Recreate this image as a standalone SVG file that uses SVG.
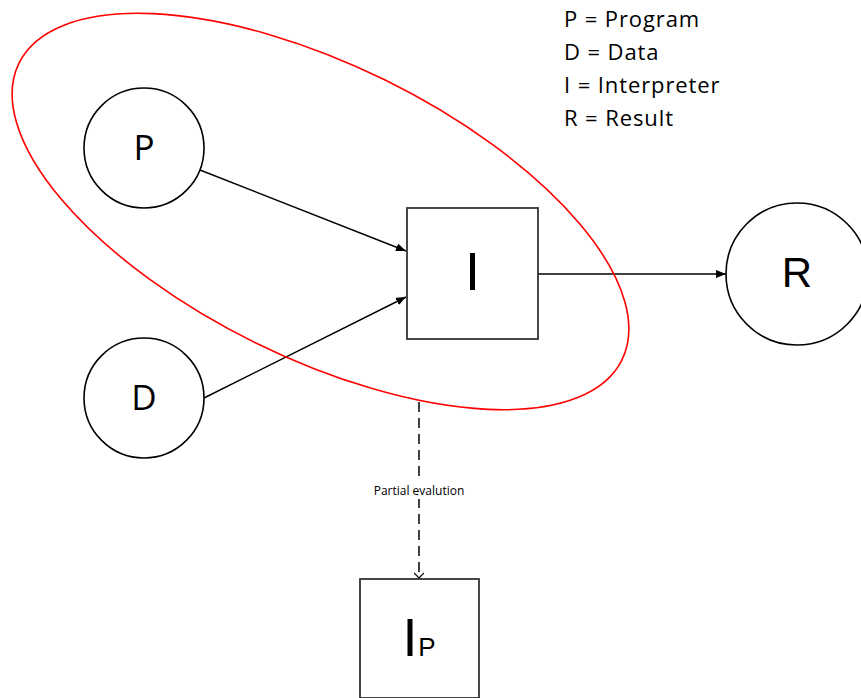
<svg xmlns="http://www.w3.org/2000/svg" width="861" height="698" viewBox="0 0 861 698">
<style>
.node{fill:#fff;stroke:#000;stroke-width:1.6}
.box{fill:#fff;stroke:#333;stroke-width:1.8}
.lbl{font-family:"Open Sans","Liberation Sans",sans-serif;fill:#000;text-anchor:middle}
.big{font-family:"Liberation Sans",Arial,sans-serif;fill:#000;text-anchor:middle}
.edge{stroke:#000;stroke-width:1.5;fill:none}
.legend{font-family:"Open Sans","Liberation Sans",sans-serif;font-size:22px;letter-spacing:0.9px;fill:#000}
</style>
<defs>
<marker id="arr" markerWidth="10" markerHeight="8" refX="10" refY="4" orient="auto" markerUnits="userSpaceOnUse">
<path d="M0,0 L10,4 L0,8 Z" fill="#000"/>
</marker>
<marker id="open" markerWidth="10" markerHeight="10" refX="5" refY="9" orient="0" markerUnits="userSpaceOnUse">
<path d="M0,4 L5,9 L10,4" fill="none" stroke="#000" stroke-width="1.2"/>
</marker>
</defs>
<rect width="861" height="698" fill="#fff"/>
<g id="legend" class="legend">
<text x="564" y="27">P = Program</text>
<text x="564" y="60">D = Data</text>
<text x="564" y="93">I = Interpreter</text>
<text x="564" y="126">R = Result</text>
</g>
<g id="connectors">
<line class="edge" x1="200" y1="170" x2="406" y2="251" marker-end="url(#arr)"/>
<line class="edge" x1="204" y1="398" x2="406" y2="297" marker-end="url(#arr)"/>
<line class="edge" x1="538" y1="274" x2="726" y2="274" marker-end="url(#arr)"/>
<line class="edge" x1="419" y1="402" x2="419" y2="578" stroke-dasharray="10,6" stroke-width="1.2" marker-end="url(#open)"/>
<rect x="371" y="481" width="96" height="18" fill="#fff"/>
<text class="lbl" x="419" y="495" font-size="12" fill="#333">Partial evalution</text>
</g>
<g id="P"><circle class="node" cx="144" cy="148" r="60"/><text class="lbl" x="144" y="160" font-size="35">P</text></g>
<g id="D"><circle class="node" cx="144" cy="398" r="60"/><text class="lbl" x="144" y="410" font-size="35">D</text></g>
<g id="I"><rect class="box" x="407" y="208" width="131" height="131"/><text class="big" x="472.5" y="290" font-size="54">I</text></g>
<g id="R"><circle class="node" cx="797" cy="274" r="71"/><text class="big" x="797" y="287" font-size="42">R</text></g>
<g id="Ip"><rect class="box" x="360" y="579" width="119" height="119"/><text class="big" x="410" y="656" font-size="54">I</text><text class="big" x="427" y="656" font-size="26">P</text></g>
<g id="scope"><ellipse cx="320.5" cy="211.5" rx="336" ry="146.5" transform="rotate(26.2 320.5 211.5)" fill="none" stroke="#f00" stroke-width="1.6"/></g>
</svg>
